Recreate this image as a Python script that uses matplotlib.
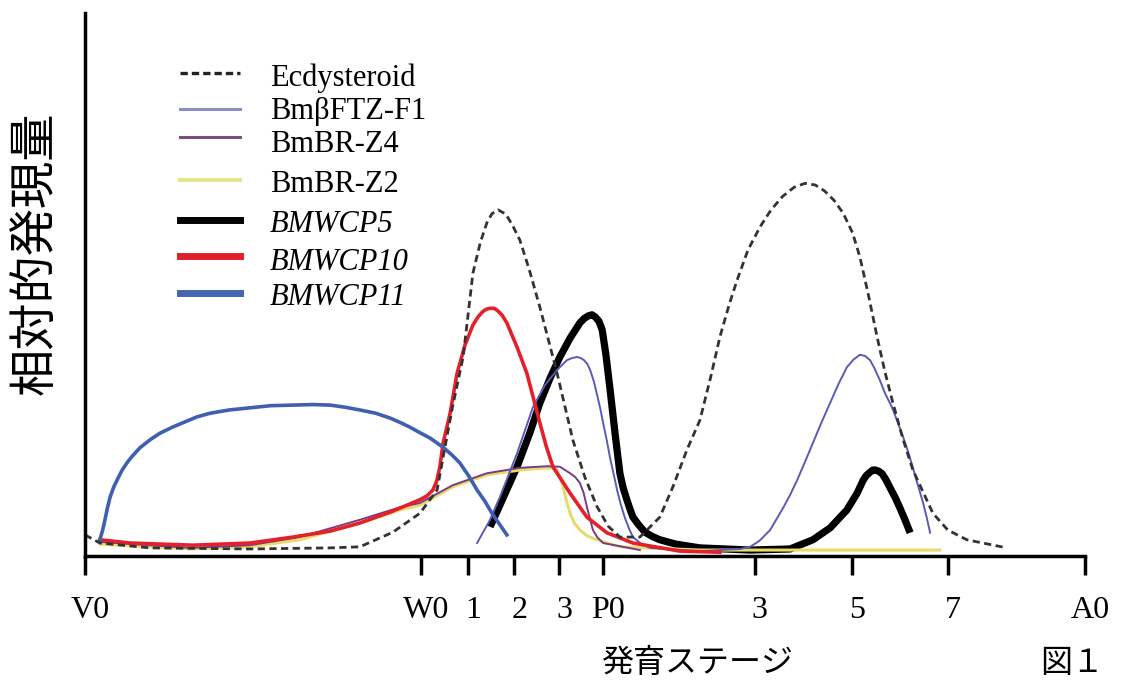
import matplotlib.pyplot as plt
from matplotlib.lines import Line2D
from matplotlib.transforms import ScaledTranslation

plt.rcParams['font.family'] = ['Liberation Serif', 'DejaVu Serif']

# x: days from V0 (5th instar day 0), y: relative expression
tick_pos = [0, 7.22, 8.24, 9.23, 10.19, 11.14, 14.4, 16.49, 18.56, 21.5]
tick_labels = ['V0', 'W0', '1', '2', '3', 'P0', '3', '5', '7', 'A0']

ecd_x = [0, 0.32, 1.40, 3.55, 5.27, 5.91, 6.62, 7.20, 7.57, 7.70,
         7.9, 8.13, 8.34, 8.5, 8.64, 8.75, 8.88, 9.05, 9.2, 9.35,
         9.55, 9.78, 10.15, 10.49, 10.75, 11.01, 11.25, 11.50, 11.93, 12.36,
         12.65, 12.94, 13.22, 13.45, 13.65, 13.85, 14.02, 14.25, 14.51, 14.75,
         15.0, 15.25, 15.48, 15.7, 15.9, 16.1, 16.30, 16.5, 16.66, 16.85,
         17.03, 17.2, 17.37, 17.58, 17.80, 18.23, 18.55, 18.96, 19.82]
ecd_y = [3.9, 2.4, 1.5, 1.3, 1.5, 1.7, 4.4, 7.9, 12.2, 18.3,
         27.5, 36.8, 52.3, 58.0, 61.6, 63.3, 64.0, 63.2, 61.0, 58.4,
         53.0, 46.0, 33.8, 21.4, 14.5, 9.1, 5.5, 3.5, 3.5, 7.2,
         13.0, 19.6, 25.1, 33.0, 40.5, 46.5, 51.0, 56.5, 60.8, 64.0,
         66.5, 68.2, 68.9, 68.6, 67.5, 65.8, 63.4, 59.8, 55.3, 48.0,
         40.5, 34.0, 28.3, 21.8, 15.9, 7.9, 4.8, 3.0, 1.5]

ftz_x = [8.43, 8.71, 8.92, 9.29, 9.63, 9.89, 10.15, 10.36, 10.47, 10.58,
         10.66, 10.73, 10.80, 10.86, 10.94, 11.01, 11.08, 11.14, 11.22, 11.29,
         11.37, 11.44, 11.52, 11.61, 11.7, 11.78, 11.95, 12.15, 13.22, 14.08,
         14.30, 14.5, 14.73, 15.01, 15.16, 15.31, 15.48, 15.65, 15.83, 16.02,
         16.2, 16.38, 16.52, 16.66, 16.77, 16.88, 16.98, 17.09, 17.2, 17.35,
         17.47, 17.59, 17.7, 17.80, 17.9, 18.02, 18.1, 18.17]
ftz_y = [2.4, 6.7, 10.9, 19.0, 27.5, 31.6, 34.4, 36.2, 36.6, 36.8,
         36.6, 36.2, 35.5, 34.4, 32.3, 29.8, 27.2, 24.6, 21.3, 18.1,
         15.0, 12.2, 9.5, 7.0, 5.0, 3.5, 2.3, 1.5, 0.9, 1.3,
         1.7, 2.8, 4.8, 8.9, 11.3, 14.0, 17.4, 20.9, 24.6, 28.3,
         31.8, 34.9, 36.3, 37.2, 37.0, 36.2, 34.6, 32.5, 30.1, 27.5,
         24.8, 22.0, 19.2, 16.3, 13.3, 9.8, 7.0, 4.3]

z4_x = [0.32, 2.26, 3.55, 4.62, 5.91, 6.77, 7.20, 7.91, 8.64, 9.35, 9.93,
        10.21, 10.43, 10.54, 10.64, 10.72, 10.79, 10.86, 10.92, 11.02, 11.14, 11.93]
z4_y = [2.6, 1.5, 2.0, 3.5, 6.7, 9.0, 9.8, 13.1, 15.3, 16.3, 16.6,
        16.5, 15.3, 14.6, 13.5, 11.7, 9.1, 6.8, 4.8, 3.4, 2.4, 1.1]

z2_x = [0.32, 2.26, 3.55, 4.62, 5.91, 6.77, 7.20, 7.91, 8.64, 9.35, 9.93, 10.08,
        10.15, 10.21, 10.28, 10.35, 10.43, 10.52, 10.64, 10.8, 11.01, 11.50, 13.22, 18.38]
z2_y = [2.2, 1.3, 1.7, 3.0, 6.1, 8.5, 9.4, 12.8, 15.0, 15.9, 16.3, 16.2,
        15.9, 14.6, 12.8, 10.2, 7.9, 6.1, 4.8, 3.7, 3.0, 1.7, 1.1, 1.1]

wcp5_x = [8.71, 8.92, 9.29, 9.57, 9.78, 10.0, 10.21, 10.43, 10.64, 10.73,
          10.82, 10.9, 10.97, 11.05, 11.12, 11.20, 11.29, 11.40, 11.50, 11.57,
          11.65, 11.72, 11.78, 11.9, 12.04, 12.2, 12.36, 12.7, 13.22, 14.30,
          15.16, 15.65, 16.02, 16.38, 16.60, 16.73, 16.8, 16.88, 16.94, 16.99,
          17.06, 17.14, 17.22, 17.31, 17.42, 17.52, 17.63, 17.74]
wcp5_y = [5.4, 9.4, 16.5, 22.9, 28.3, 32.9, 36.8, 40.3, 43.1, 43.9,
          44.4, 44.6, 44.2, 43.4, 41.8, 37.2, 30.7, 22.4, 15.3, 12.6,
          10.4, 8.6, 7.2, 5.8, 4.4, 3.6, 3.0, 2.2, 1.5, 1.1,
          1.3, 3.0, 5.2, 8.5, 11.6, 14.0, 14.9, 15.5, 15.9, 15.9,
          15.7, 15.2, 14.1, 12.6, 10.8, 8.9, 6.7, 4.3]

wcp10_x = [0.32, 0.97, 2.32, 3.55, 4.47, 5.27, 5.91, 6.56, 7.20, 7.35,
           7.48, 7.56, 7.63, 7.70, 7.85, 8.00, 8.17, 8.34, 8.45, 8.54,
           8.62, 8.71, 8.80, 8.88, 8.97, 9.07, 9.29, 9.50, 9.64, 9.78,
           9.92, 10.06, 10.43, 10.79, 11.22, 11.78, 12.79, 13.65]
wcp10_y = [3.0, 2.4, 2.0, 2.4, 3.5, 4.6, 6.1, 8.1, 10.4, 11.1,
           12.2, 13.8, 16.5, 20.9, 26.4, 33.8, 39.0, 42.7, 44.2, 45.1,
           45.6, 45.8, 45.8, 45.3, 44.5, 43.1, 38.6, 33.8, 29.2, 24.6,
           20.2, 16.5, 11.6, 7.2, 4.3, 2.4, 0.9, 0.7]

wcp11_x = [0.32, 0.38, 0.43, 0.48, 0.54, 0.62, 0.71, 0.80, 0.90, 1.0,
           1.18, 1.4, 1.61, 1.9, 2.15, 2.4, 2.69, 3.1, 3.55, 4.0,
           4.47, 4.9, 5.27, 5.6, 5.91, 6.25, 6.56, 6.8, 6.99, 7.2,
           7.42, 7.70, 7.9, 8.06, 8.25, 8.43, 8.6, 8.75, 9.07]
wcp11_y = [3.0, 4.8, 6.7, 8.8, 10.9, 12.8, 14.4, 15.9, 17.2, 18.3,
           20.0, 21.5, 22.7, 23.9, 24.8, 25.7, 26.4, 27.0, 27.4, 27.8,
           27.9, 28.0, 27.9, 27.5, 27.0, 26.4, 25.5, 24.6, 23.8, 22.8,
           21.8, 20.1, 18.6, 17.2, 14.8, 12.2, 10.1, 7.9, 3.9]

fig = plt.figure(figsize=(11.22, 6.81), dpi=100)
ax = fig.add_axes([85 / 1122, 125 / 681, 1000 / 1122, 543 / 681])

kw = dict(solid_joinstyle='round')
ax.plot(wcp5_x, wcp5_y, color='black', lw=5.2, solid_capstyle='butt', **kw)
ax.plot(z2_x, z2_y, color='#e6dc6a', lw=2.2, **kw)
ax.plot(z4_x, z4_y, color='#7a3a86', lw=1.4, **kw)
ax.plot(ftz_x, ftz_y, color='#5a5ab8', lw=1.4, **kw)
ax.plot(wcp10_x, wcp10_y, color='#e4212b', lw=2.6, **kw)
ax.plot(wcp11_x, wcp11_y, color='#3f5fb0', lw=2.6, **kw)
ax.plot(ecd_x, ecd_y, color='#333333', lw=2.0, dashes=(2.6, 1.6))

ax.set_xlim(0, 21.5)
ax.set_ylim(0, 100.4)
for s in ['top', 'right']:
    ax.spines[s].set_visible(False)
for s in ['left', 'bottom']:
    ax.spines[s].set_linewidth(2.5)
ax.set_yticks([])
ax.set_xticks(tick_pos)
ax.set_xticklabels(tick_labels, fontsize=23)
ax.tick_params(axis='x', direction='out', length=14, width=2.5, pad=15)
shift = ScaledTranslation(5 / 100, 0, fig.dpi_scale_trans)
for lab in ax.get_xticklabels():
    lab.set_transform(lab.get_transform() + shift)

# hand-placed legend
legend_rows = [
    ('Ecdysteroid', dict(color='#222222', lw=2.4, dashes=(2.2, 1.2)), 'normal', 73, 78),
    ('BmβFTZ-F1', dict(color='#8c8cc8', lw=2.2), 'normal', 109, 112),
    ('BmBR-Z4', dict(color='#7b4f80', lw=2.2), 'normal', 137, 144),
    ('BmBR-Z2', dict(color='#e8e48c', lw=3.0), 'normal', 180, 185),
    ('BMWCP5', dict(color='black', lw=5.0), 'italic', 220, 224),
    ('BMWCP10', dict(color='#e0202a', lw=5.0), 'italic', 256, 262),
    ('BMWCP11', dict(color='#4466b0', lw=5.0), 'italic', 293, 297),
]
for name, style, fstyle, ly, ty in legend_rows:
    fig.add_artist(Line2D([180 / 1122, 240 / 1122], [1 - ly / 681, 1 - ly / 681],
                          transform=fig.transFigure, **style))
    fig.text(270 / 1122, 1 - ty / 681, name, fontsize=22, style=fstyle,
             va='center', ha='left')

cjk = ['Noto Sans CJK JP', 'DejaVu Sans']
fig.text(35 / 1122, 1 - 253 / 681, '相対的発現量', family=cjk, fontsize=34,
         rotation=90, va='center', ha='center')
fig.text(697 / 1122, 1 - 663 / 681, '発育ステージ', family=cjk, fontsize=23,
         va='center', ha='center')
fig.text(1072 / 1122, 1 - 663 / 681, '図１', family=cjk, fontsize=23,
         va='center', ha='center')

fig.savefig('out.png', dpi=100)
